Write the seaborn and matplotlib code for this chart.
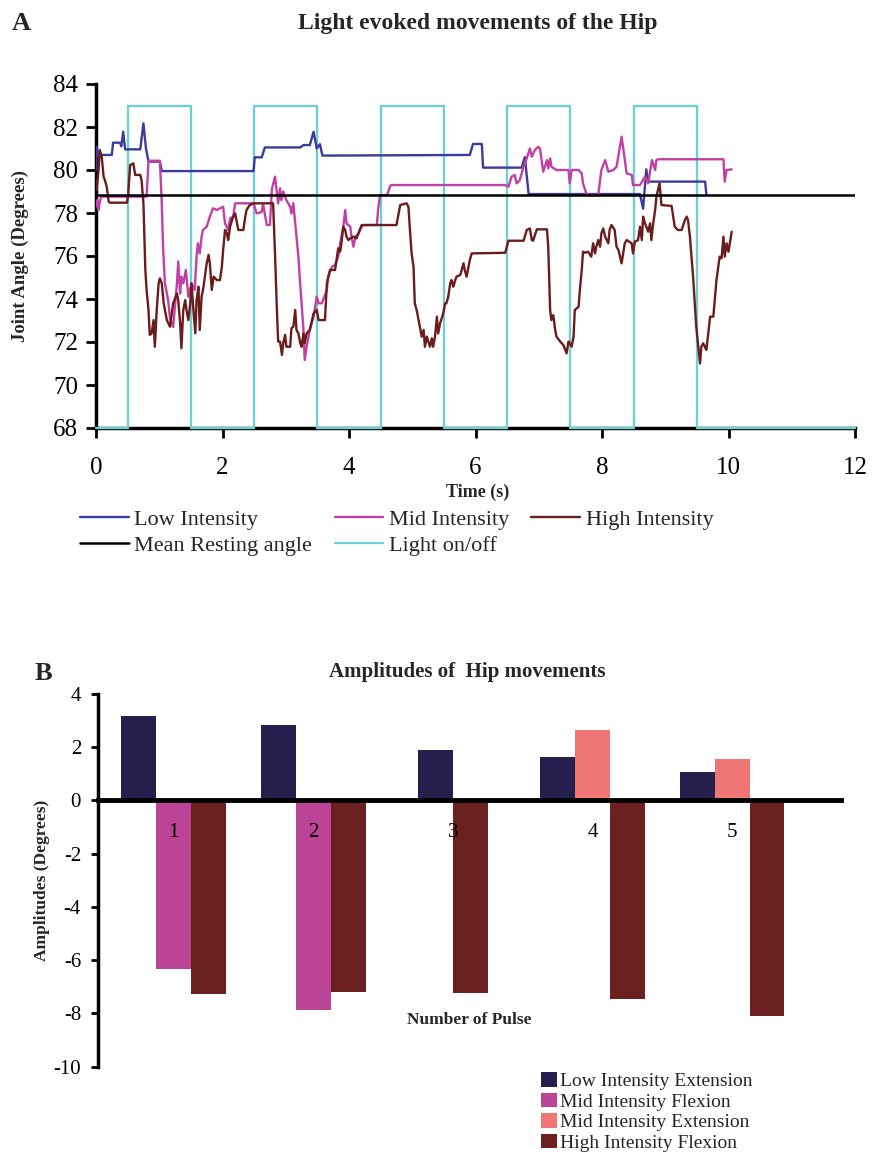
import numpy as np
import pandas as pd
import matplotlib
matplotlib.use("Agg")
import matplotlib.pyplot as plt
import seaborn as sns

# === Panel A: joint angle traces (time in s, angle in degrees) ===
low_pts = [(0.0, 80.0), (0.01, 81.08), (0.03, 80.7), (0.25, 80.7), (0.27, 81.27), (0.38, 81.27),
           (0.40, 81.1), (0.43, 81.78), (0.46, 80.96), (0.70, 80.96), (0.75, 82.17), (0.79, 81.0),
           (0.83, 80.39), (1.01, 80.39), (1.04, 79.95), (2.49, 79.95), (2.51, 80.59), (2.62, 80.59),
           (2.67, 81.05), (3.23, 81.05), (3.28, 81.16), (3.38, 81.16), (3.44, 81.78), (3.49, 81.0),
           (3.54, 81.2), (3.58, 80.67), (3.62, 80.67), (5.91, 80.7), (5.96, 81.21), (6.10, 81.21),
           (6.12, 80.11), (6.73, 80.11), (6.78, 80.6), (6.84, 78.88), (8.60, 78.88), (8.65, 78.2),
           (8.70, 80.03), (8.73, 79.46), (9.63, 79.46), (9.65, 78.88)]

mid_pts = [(0.0, 78.3), (0.02, 78.6), (0.04, 78.14), (0.06, 78.5), (0.08, 78.76), (0.80, 78.76),
           (0.83, 80.43), (1.01, 80.43), (1.04, 78.45), (1.06, 76.43), (1.09, 74.73), (1.14, 73.95),
           (1.17, 73.1), (1.22, 72.7), (1.28, 74.73), (1.30, 75.74), (1.33, 74.26), (1.35, 75.04),
           (1.38, 74.73), (1.42, 75.35), (1.46, 74.11), (1.51, 74.73), (1.56, 74.42), (1.59, 75.97),
           (1.61, 76.59), (1.64, 76.12), (1.67, 76.9), (1.69, 77.21), (1.75, 77.36), (1.80, 77.83),
           (1.85, 78.22), (1.91, 78.14), (1.96, 78.22), (2.01, 78.29), (2.04, 77.52), (2.09, 77.21),
           (2.12, 77.75), (2.17, 77.83), (2.20, 78.45), (2.49, 78.45), (2.54, 77.98), (2.62, 78.05),
           (2.64, 78.45), (2.70, 77.44), (2.75, 77.44), (2.78, 79.1), (2.83, 79.69), (2.88, 78.45),
           (2.91, 79.15), (2.93, 78.6), (2.96, 79.0), (3.01, 78.6), (3.07, 78.29), (3.09, 77.98),
           (3.12, 78.45), (3.17, 76.9), (3.20, 75.97), (3.22, 75.04), (3.28, 72.56), (3.30, 71.16),
           (3.33, 71.78), (3.38, 72.56), (3.44, 73.18), (3.49, 74.11), (3.52, 73.8), (3.57, 73.8),
           (3.65, 74.42), (3.67, 75.04), (3.73, 75.5), (3.78, 75.58), (3.83, 75.97), (3.86, 76.59),
           (3.88, 76.9), (3.91, 77.36), (3.94, 78.14), (3.96, 77.52), (3.99, 77.44), (4.02, 77.36),
           (4.04, 76.9), (4.07, 76.43), (4.10, 76.9), (4.15, 77.05), (4.20, 77.36), (4.23, 77.44),
           (4.44, 77.44), (4.46, 78.14), (4.49, 78.83), (4.60, 78.83), (4.65, 79.25), (4.67, 79.3),
           (6.47, 79.3), (6.52, 79.22), (6.57, 79.69), (6.62, 79.77), (6.65, 79.38), (6.70, 79.53),
           (6.76, 80.15), (6.81, 80.54), (6.86, 81.0), (6.89, 80.62), (6.94, 80.93), (6.99, 81.08),
           (7.02, 81.0), (7.07, 79.92), (7.13, 80.46), (7.15, 80.08), (7.18, 80.54), (7.20, 80.15),
           (7.28, 80.0), (7.47, 80.0), (7.49, 79.38), (7.52, 80.0), (7.63, 80.0), (7.68, 79.84),
           (7.70, 79.38), (7.76, 78.83), (7.94, 78.83), (7.99, 80.0), (8.05, 80.46), (8.10, 79.92),
           (8.18, 80.0), (8.23, 80.15), (8.31, 81.55), (8.36, 80.46), (8.39, 79.84), (8.47, 79.77),
           (8.49, 79.3), (8.60, 79.3), (8.68, 79.69), (8.73, 79.38), (8.79, 80.46), (8.84, 80.0),
           (8.86, 80.46), (8.89, 80.5), (9.92, 80.5), (9.94, 79.46), (9.97, 80.0), (10.05, 80.03)]

high_pts = [(0.0, 79.53), (0.01, 79.07), (0.04, 80.0), (0.06, 80.93), (0.09, 80.62), (0.12, 79.69),
            (0.14, 79.53), (0.17, 79.22), (0.20, 78.53), (0.22, 78.48), (0.49, 78.48), (0.51, 78.91),
            (0.54, 80.23), (0.59, 80.31), (0.62, 79.77), (0.70, 79.77), (0.72, 79.53), (0.75, 78.45),
            (0.78, 75.35), (0.80, 74.42), (0.83, 73.49), (0.85, 72.33), (0.88, 72.4), (0.91, 73.02),
            (0.93, 71.78), (0.96, 73.49), (0.99, 74.73), (1.01, 74.96), (1.04, 74.73), (1.07, 73.8),
            (1.12, 73.02), (1.17, 72.71), (1.22, 73.8), (1.28, 74.26), (1.30, 73.95), (1.33, 72.87),
            (1.35, 71.71), (1.38, 73.49), (1.41, 73.95), (1.43, 73.49), (1.46, 73.02), (1.49, 73.8),
            (1.51, 74.73), (1.54, 73.49), (1.57, 72.4), (1.59, 73.95), (1.62, 74.57), (1.64, 72.56),
            (1.67, 74.11), (1.70, 74.57), (1.75, 75.66), (1.78, 76.05), (1.80, 75.66), (1.83, 74.42),
            (1.86, 75.04), (1.91, 74.88), (1.96, 74.88), (1.99, 75.5), (2.01, 76.28), (2.04, 77.21),
            (2.07, 77.05), (2.09, 76.74), (2.12, 77.36), (2.15, 77.67), (2.17, 77.83), (2.20, 77.98),
            (2.22, 77.67), (2.25, 77.21), (2.33, 77.21), (2.36, 77.83), (2.38, 78.14), (2.43, 78.37),
            (2.49, 78.45), (2.80, 78.45), (2.83, 76.12), (2.86, 73.49), (2.88, 72.02), (2.91, 72.02),
            (2.94, 71.4), (2.96, 71.94), (2.99, 72.33), (3.01, 71.78), (3.07, 71.78), (3.09, 72.64),
            (3.12, 72.71), (3.15, 73.49), (3.17, 72.56), (3.20, 72.4), (3.23, 71.94), (3.25, 71.78),
            (3.28, 72.4), (3.30, 71.94), (3.33, 72.4), (3.38, 72.56), (3.44, 73.33), (3.49, 73.49),
            (3.52, 73.02), (3.62, 73.02), (3.65, 74.73), (3.70, 75.35), (3.78, 75.35), (3.81, 75.97),
            (3.83, 76.36), (3.86, 76.2), (3.88, 76.59), (3.91, 77.36), (3.94, 77.21), (3.96, 76.9),
            (3.99, 76.74), (4.02, 76.82), (4.07, 76.9), (4.12, 76.82), (4.15, 77.05), (4.17, 77.21),
            (4.20, 77.44), (4.75, 77.44), (4.81, 78.37), (4.91, 78.45), (4.94, 78.29), (4.96, 77.36),
            (4.99, 76.12), (5.02, 75.5), (5.04, 73.8), (5.07, 73.49), (5.10, 73.02), (5.12, 72.71),
            (5.15, 72.25), (5.18, 72.56), (5.20, 71.78), (5.23, 72.25), (5.28, 71.78), (5.31, 72.17),
            (5.33, 71.78), (5.36, 72.25), (5.39, 73.18), (5.41, 72.4), (5.44, 72.87), (5.49, 73.33),
            (5.52, 73.8), (5.54, 73.8), (5.57, 74.11), (5.60, 74.73), (5.62, 74.88), (5.65, 74.57),
            (5.68, 74.88), (5.70, 75.04), (5.76, 75.12), (5.81, 75.66), (5.83, 75.35), (5.86, 75.04),
            (5.91, 75.81), (5.94, 76.12), (6.47, 76.15), (6.52, 76.71), (6.76, 76.71), (6.81, 77.21),
            (6.86, 77.28), (6.89, 76.74), (6.91, 76.71), (6.97, 77.24), (7.13, 77.24), (7.15, 76.43),
            (7.18, 73.49), (7.20, 73.02), (7.23, 73.25), (7.26, 72.56), (7.28, 72.25), (7.34, 72.02),
            (7.39, 71.86), (7.44, 71.47), (7.47, 72.02), (7.49, 71.94), (7.52, 71.78), (7.55, 72.25),
            (7.57, 73.49), (7.63, 73.64), (7.65, 74.42), (7.68, 75.35), (7.70, 76.2), (7.73, 76.15),
            (7.78, 76.2), (7.83, 75.97), (7.86, 76.59), (7.89, 76.12), (7.91, 76.43), (7.94, 76.74),
            (7.97, 76.43), (7.99, 77.05), (8.02, 77.28), (8.05, 76.9), (8.10, 76.59), (8.12, 77.21),
            (8.15, 77.44), (8.20, 77.21), (8.23, 76.43), (8.26, 76.28), (8.31, 75.66), (8.34, 76.2),
            (8.36, 76.59), (8.39, 76.74), (8.47, 76.59), (8.49, 76.12), (8.52, 76.67), (8.57, 76.74),
            (8.60, 77.36), (8.63, 76.74), (8.65, 77.83), (8.68, 77.52), (8.70, 77.36), (8.73, 77.13),
            (8.76, 77.52), (8.78, 76.74), (8.81, 77.52), (8.84, 78.14), (8.86, 78.76), (8.91, 79.38),
            (8.94, 78.37), (9.10, 78.33), (9.15, 77.36), (9.20, 77.21), (9.26, 77.21), (9.31, 77.67),
            (9.34, 77.83), (9.36, 77.67), (9.39, 76.9), (9.44, 75.04), (9.49, 72.71), (9.55, 71.0),
            (9.57, 71.78), (9.60, 71.94), (9.65, 71.63), (9.68, 72.4), (9.71, 73.18), (9.76, 73.18),
            (9.81, 74.88), (9.86, 75.97), (9.89, 75.89), (9.92, 76.9), (9.94, 75.97), (9.97, 76.59),
            (10.0, 76.2), (10.05, 77.13)]

rest_t = [0, 12]
rest_deg = [78.85, 78.85]

light_t = [0, 0.5, 0.5, 1.5, 1.5, 2.5, 2.5, 3.5, 3.5, 4.5, 4.5, 5.5, 5.5, 6.5, 6.5,
           7.5, 7.5, 8.5, 8.5, 9.5, 9.5, 12]
light_deg = [68, 68, 83, 83, 68, 68, 83, 83, 68, 68, 83, 83, 68, 68, 83,
             83, 68, 68, 83, 83, 68, 68]

# === Panel B: amplitudes per pulse ===
pulses = [1, 2, 3, 4, 5]
low_ext = [3.17, 2.83, 1.90, 1.63, 1.05]
mid_flex = [-6.35, -7.88, np.nan, np.nan, np.nan]
mid_ext = [np.nan, np.nan, np.nan, 2.63, 1.57]
high_flex = [-7.28, -7.19, -7.25, -7.46, -8.10]

bar_order = ["Low Intensity Extension", "Mid Intensity Flexion",
             "Mid Intensity Extension", "High Intensity Flexion"]
bar_colors = ["#26204f", "#bb4497", "#f07676", "#6a2120"]

sns.set_theme(style="white")
plt.rcParams["font.family"] = ["Liberation Serif", "DejaVu Serif"]
plt.rcParams["axes.edgecolor"] = "black"
plt.rcParams["xtick.color"] = "black"
plt.rcParams["ytick.color"] = "black"
plt.rcParams["axes.unicode_minus"] = False

fig = plt.figure(figsize=(8.73, 11.55), dpi=100)
W, H = 873, 1155

# ---------------- Panel A ----------------
axA = fig.add_axes([96 / W, 1 - 428 / H, (855 - 96) / W, (428 - 84) / H])

sns.lineplot(x=light_t, y=light_deg, ax=axA, color="#6fcfd2", linewidth=1.7,
             estimator=None, sort=False, label="Light on/off", zorder=3.0, clip_on=False)
for name, pts, col, z in [("Low Intensity", low_pts, "#3b3b9b", 3.1),
                          ("Mid Intensity", mid_pts, "#c23fa4", 3.2),
                          ("High Intensity", high_pts, "#6b1c1c", 3.3)]:
    t, deg = zip(*pts)
    sns.lineplot(x=list(t), y=list(deg), ax=axA, color=col, linewidth=1.7,
                 estimator=None, sort=False, label=name, zorder=z)
sns.lineplot(x=rest_t, y=rest_deg, ax=axA, color="black", linewidth=1.8,
             estimator=None, sort=False, label="Mean Resting angle", zorder=3.4)

axA.set_xlim(0, 12)
axA.set_ylim(68, 84)
axA.set_xticks(range(0, 13, 2))
axA.set_yticks(range(68, 85, 2))
for s in ["top", "right"]:
    axA.spines[s].set_visible(False)
for s in ["left", "bottom"]:
    axA.spines[s].set_linewidth(2.5)
axA.tick_params(axis="both", direction="out", length=7, width=2, labelsize=18,
                bottom=True, left=True)
axA.tick_params(axis="x", pad=14)
axA.tick_params(axis="y", pad=6)
axA.set_xlabel("Time (s)", fontsize=13, fontweight="bold", va="top")
axA.xaxis.set_label_coords(0.503, -0.163)
axA.set_ylabel("Joint Angle (Degrees)", fontsize=13.5, fontweight="bold")
axA.yaxis.set_label_coords(-0.088, 0.5)

handles, labels = axA.get_legend_handles_labels()
if axA.get_legend() is not None:
    axA.get_legend().remove()
hmap = dict(zip(labels, handles))
leg_order = ["Low Intensity", "Mean Resting angle", "Mid Intensity", "Light on/off", "High Intensity"]
fig.legend([hmap[k] for k in leg_order], leg_order, ncol=3, loc="upper left",
           bbox_to_anchor=(80 / W, 1 - 509 / H), frameon=False, fontsize=16,
           handlelength=2.2, handletextpad=0.25, columnspacing=1.0,
           labelspacing=0.25, borderpad=0, borderaxespad=0)

fig.text(478 / W, 1 - 23 / H, "Light evoked movements of the Hip", ha="center", va="center",
         fontsize=17, fontweight="bold")
fig.text(12 / W, 1 - 23 / H, "A", ha="left", va="center", fontsize=19, fontweight="bold")

# ---------------- Panel B ----------------
axB = fig.add_axes([97.7 / W, 1 - 1066.5 / H, (841 - 97.7) / W, (1066.5 - 694) / H])

amps = pd.DataFrame({"pulse": pulses, bar_order[0]: low_ext, bar_order[1]: mid_flex,
                     bar_order[2]: mid_ext, bar_order[3]: high_flex})
bars = amps.melt(id_vars="pulse", var_name="series", value_name="amp").dropna()
bars["rank"] = bars["series"].map({k: i for i, k in enumerate(bar_order)})
bars = bars.sort_values(["pulse", "rank"]).reset_index(drop=True)
# bars that exist in a pulse sit side by side, centred on the pulse number
slot = bars.groupby("pulse").cumcount()
n_in = bars.groupby("pulse")["amp"].transform("size")
bars["pos"] = bars["pulse"] + (slot - (n_in - 1) / 2) * 0.25

sns.barplot(data=bars, x="pos", y="amp", hue="series", hue_order=bar_order,
            palette=bar_colors, saturation=1, native_scale=True, dodge=False, width=1,
            errorbar=None, linewidth=0, ax=axB)
leg = axB.get_legend()
b_handles = leg.legend_handles
b_labels = [t.get_text() for t in leg.get_texts()]
leg.remove()

axB.set_xlim(0.457, 5.78)
axB.set_ylim(-10, 4)
axB.set_yticks(range(-10, 5, 2))
axB.set_xticks(pulses)
axB.set_xticklabels([str(p) for p in pulses])
axB.set_axisbelow(False)
axB.spines["bottom"].set_position(("data", 0))
axB.spines["bottom"].set_linewidth(3.5)
axB.spines["left"].set_linewidth(2.5)
for s in ["top", "right"]:
    axB.spines[s].set_visible(False)
axB.tick_params(axis="x", length=0, pad=16, labelsize=15)
axB.tick_params(axis="y", direction="out", length=5, width=2, labelsize=15, pad=7, left=True)
axB.set_xlabel("")
axB.set_ylabel("Amplitudes (Degrees)", fontsize=12.5, fontweight="bold")
axB.yaxis.set_label_coords(-0.064, 0.5)
axB.text(3.12, -8.25, "Number of Pulse", ha="center", va="center",
         fontsize=12.5, fontweight="bold")

fig.legend(b_handles, b_labels, loc="upper left", bbox_to_anchor=(541 / W, 1 - 1072 / H),
           frameon=False, fontsize=14, handlelength=0.8, handleheight=0.8,
           handletextpad=0.2, labelspacing=0.12, borderpad=0, borderaxespad=0)

fig.text(467 / W, 1 - 672 / H, "Amplitudes of  Hip movements", ha="center", va="center",
         fontsize=15, fontweight="bold")
fig.text(35 / W, 1 - 673 / H, "B", ha="left", va="center", fontsize=19, fontweight="bold")

fig.savefig("out.png", dpi=100)
